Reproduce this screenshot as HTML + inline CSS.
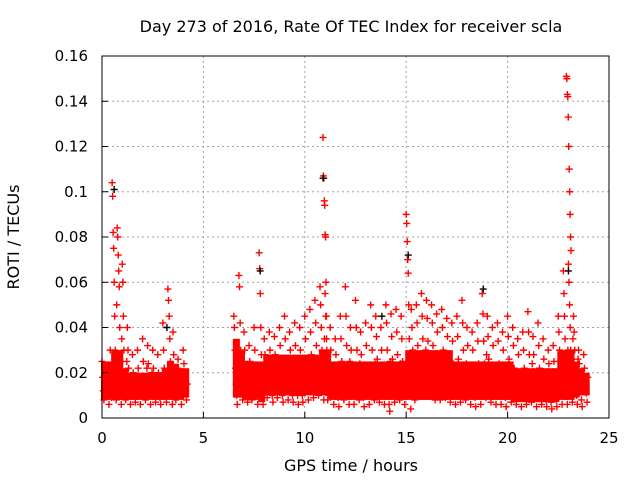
<!DOCTYPE html>
<html><head><meta charset="utf-8"><style>
body{margin:0;background:#fff}
svg{display:block;font-family:"DejaVu Sans","Liberation Sans",sans-serif}
</style></head><body>
<svg id="chart" width="640" height="480" viewBox="0 0 640 480">
<rect width="640" height="480" fill="#fff"/>
<text x="351" y="32" text-anchor="middle" font-size="16" fill="#000">Day 273 of 2016, Rate Of TEC Index for receiver scla</text>
<g id="grid"></g>
<g id="marks"></g>
<rect x="102" y="56" width="507" height="362" fill="none" stroke="#000" stroke-width="1"/>
<g id="axes"></g>
<text x="351" y="471" text-anchor="middle" font-size="16">GPS time / hours</text>
<text transform="translate(19,237) rotate(-90)" text-anchor="middle" font-size="16">ROTI / TECUs</text>
</svg>
<script>
const xTicks=[0,5,10,15,20,25];
const yTicks=[0,0.02,0.04,0.06,0.08,0.1,0.12,0.14,0.16];
const yTickLabels=["0","0.02","0.04","0.06","0.08","0.1","0.12","0.14","0.16"];
const binTimes=[0,0.25,0.5,0.75,1,1.25,1.5,1.75,2,2.25,2.5,2.75,3,3.25,3.5,3.75,4,
6.5,6.75,7,7.25,7.5,7.75,8,8.25,8.5,8.75,9,9.25,9.5,9.75,10,10.25,10.5,10.75,10.9,11,11.25,11.5,11.75,
12,12.25,12.5,12.75,13,13.25,13.5,13.75,14,14.25,14.5,14.75,15,15.25,15.5,15.75,16,16.25,16.5,16.75,
17,17.25,17.5,17.75,18,18.25,18.5,18.75,19,19.25,19.5,19.75,20,20.25,20.5,20.75,21,21.25,21.5,21.75,
22,22.25,22.5,22.75,22.9,23,23.25,23.5,23.75];
const coreLow=[8,8,8,8,8,8,8,8,8,8,8,8,8,8,8,8,9,
9,9,8,8,8,7,10,10,10,10,10,10,10,10,10,10,10,10,10,10,8,8,8,
8,8,8,8,8,8,8,8,8,8,8,8,8,8,8,8,8,8,8,8,
8,8,8,8,8,8,8,8,8,8,8,8,8,7,7,7,7,7,7,7,
7,7,8,8,8,8,9,10,10];
const coreHigh=[25,25,30,30,22,20,20,20,20,20,20,20,22,25,24,22,22,
35,30,25,25,25,25,28,28,28,28,28,28,28,28,28,28,28,30,30,30,25,25,25,
25,25,25,25,25,25,25,25,25,25,25,25,30,30,30,30,30,30,30,30,
30,25,25,25,25,25,25,25,25,25,25,25,25,22,22,22,22,22,22,22,
22,22,30,30,30,30,25,22,20];
const binValues=[
[25,18,12,8,15,20,10,14],[22,15,10,6,12,30,18,9],[104,98,82,75,60,45,30,15,8,50],[84,80,72,65,58,40,25,12,6,35],
[68,60,45,30,20,12,8,15,25],[40,30,22,15,10,6,18,12],[28,20,14,10,7,18,12],[30,22,15,10,6,12,18],
[35,25,18,12,8,15,22],[32,24,16,10,6,14,20],[30,22,15,10,7,18,12],[28,20,14,9,6,16,12],
[42,30,22,15,10,7,18],[57,52,45,35,25,15,10,6],[38,28,18,12,8,15,22],[26,20,14,10,6,16],[30,24,18,12,8,15],
[45,40,30,22,15,10,6,18,25],[63,58,42,30,20,12,8,25],[38,30,22,15,10,7,18],[32,25,18,12,8,15,22],
[40,30,22,15,10,6,18],[73,66,55,40,28,18,10,6,22],[35,28,20,14,9,16,24],[38,30,22,15,10,7,18],
[36,28,20,14,9,16,25],[40,32,24,16,10,7,20],[45,35,25,18,12,8,22],[38,30,22,15,10,7,18],
[42,32,24,16,10,6,20],[40,30,22,15,10,7,18,26],[45,35,25,18,12,8,22],[48,38,28,20,14,9,24],
[52,42,32,22,15,10,26],[58,50,40,30,20,12,8,35],[124,107,106,96,94,81,80,60,45,30,15,8],
[55,45,35,25,15,10,20],[40,30,22,15,10,6,18],[35,28,20,14,9,5,16],[45,35,25,18,12,8,22],
[58,45,32,22,15,10,6,25],[40,30,22,15,10,6,18],[52,40,30,20,14,8,24],[38,28,20,14,9,5,16],
[42,32,22,15,10,6,18],[50,40,30,20,14,8,24],[45,36,26,18,12,7,22],[40,30,22,15,10,6,18],
[50,42,30,20,12,6,3,25],[46,36,26,18,12,7,22],[48,38,28,20,13,8,24],[45,35,25,18,12,6,22],
[90,86,78,70,64,50,35,20,10,4],[48,40,30,20,14,8,25],[50,42,32,22,15,10,28],[55,45,35,25,16,10,30],
[52,44,34,24,16,10,28],[50,42,32,22,14,8,26],[46,38,28,20,13,8,24],[48,40,30,22,14,9,26],
[44,36,26,18,12,7,22],[42,34,24,16,10,6,20],[45,36,26,18,12,7,22],[52,42,30,20,13,8,24],
[40,32,22,15,10,6,18],[38,30,20,14,9,5,16],[42,34,24,16,10,6,20],[55,46,34,24,15,9,28],
[45,36,26,18,12,7,22],[40,32,22,15,10,6,18],[42,34,24,16,10,6,20],[38,30,20,14,9,5,16],
[45,36,26,18,12,7,22],[40,32,22,15,10,6,18],[35,28,20,14,9,5,16],[38,30,22,15,10,6,18],
[47,38,28,20,12,7,24],[36,28,20,14,9,5,16],[42,32,22,15,10,6,18],[35,26,18,12,8,5,15],
[30,24,16,11,7,4,14],[32,25,18,12,8,5,15],[45,38,30,22,15,10,6,26],[65,55,45,35,25,15,10,6,30],
[151,150,143,142,133,120,110,100,90,80,74],[68,60,50,40,30,20,12,7,35],[45,38,30,22,15,10,6,26],
[30,24,18,12,8,5,15],[28,22,16,11,7,18]];
const blackTimes=[0.6,3.2,7.8,10.9,13.8,15.1,18.8,23.0];
const blackValues=[0.101,0.040,0.065,0.106,0.045,0.072,0.057,0.065];

const X0=102,X1=609,Y0=418,Y1=56;
const xs=t=>X0+(t/25)*(X1-X0);
const ys=v=>Y0-(v/0.16)*(Y0-Y1);
const NS="http://www.w3.org/2000/svg";
const grid=document.getElementById('grid'),axes=document.getElementById('axes'),marks=document.getElementById('marks');
function mk(tag,attrs,parent){const e=document.createElementNS(NS,tag);for(const k in attrs)e.setAttribute(k,attrs[k]);parent.appendChild(e);return e;}
xTicks.forEach((t,i)=>{
  const x=xs(t);
  if(i>0&&i<xTicks.length-1){const g=mk('line',{x1:x,y1:Y0,x2:x,y2:Y1,stroke:'#a0a0a0','stroke-dasharray':'2,3'},grid);
  
  }
  const tk=mk('line',{x1:x,y1:Y0,x2:x,y2:Y0-6,stroke:'#000'},axes);
  
  
  const lb=mk('text',{x:x,y:443,'text-anchor':'middle','font-size':'15'},axes);lb.textContent=String(t);
  
  
});
yTicks.forEach((v,i)=>{
  const y=ys(v);
  if(i>0&&i<yTicks.length-1){const g=mk('line',{x1:X0,y1:y,x2:X1,y2:y,stroke:'#a0a0a0','stroke-dasharray':'2,3'},grid);
  
  }
  const tk=mk('line',{x1:X0,y1:y,x2:X0+6,y2:y,stroke:'#000'},axes);
  
  
  const lb=mk('text',{x:88,y:y+5,'text-anchor':'end','font-size':'15'},axes);lb.textContent=yTickLabels[i];
  
  
});
function plus(x,y,c){
  const p=mk('path',{d:`M${x-3.5},${y}h7M${x},${y-3.5}v7`,stroke:c,'stroke-width':'1.4',fill:'none'},marks);
  
  
}
binTimes.forEach((t,i)=>{
  let w=(i+1<binTimes.length&&binTimes[i+1]-t<1)?binTimes[i+1]-t:0.25;
  const r=mk('rect',{x:xs(t)-1,y:ys(coreHigh[i]/1000),width:xs(t+w)-xs(t)+2,height:ys(coreLow[i]/1000)-ys(coreHigh[i]/1000),fill:'#ff0000'},marks);
  
  
});
binTimes.forEach((t,i)=>{
  const vals=binValues[i];const n=vals.length;
  vals.forEach((v,j)=>{plus(xs(t+0.25*j/n),ys(v/1000),'#ff0000');});
});
blackTimes.forEach((t,i)=>{plus(xs(t),ys(blackValues[i]),'#000');});
</script>
</body></html>
